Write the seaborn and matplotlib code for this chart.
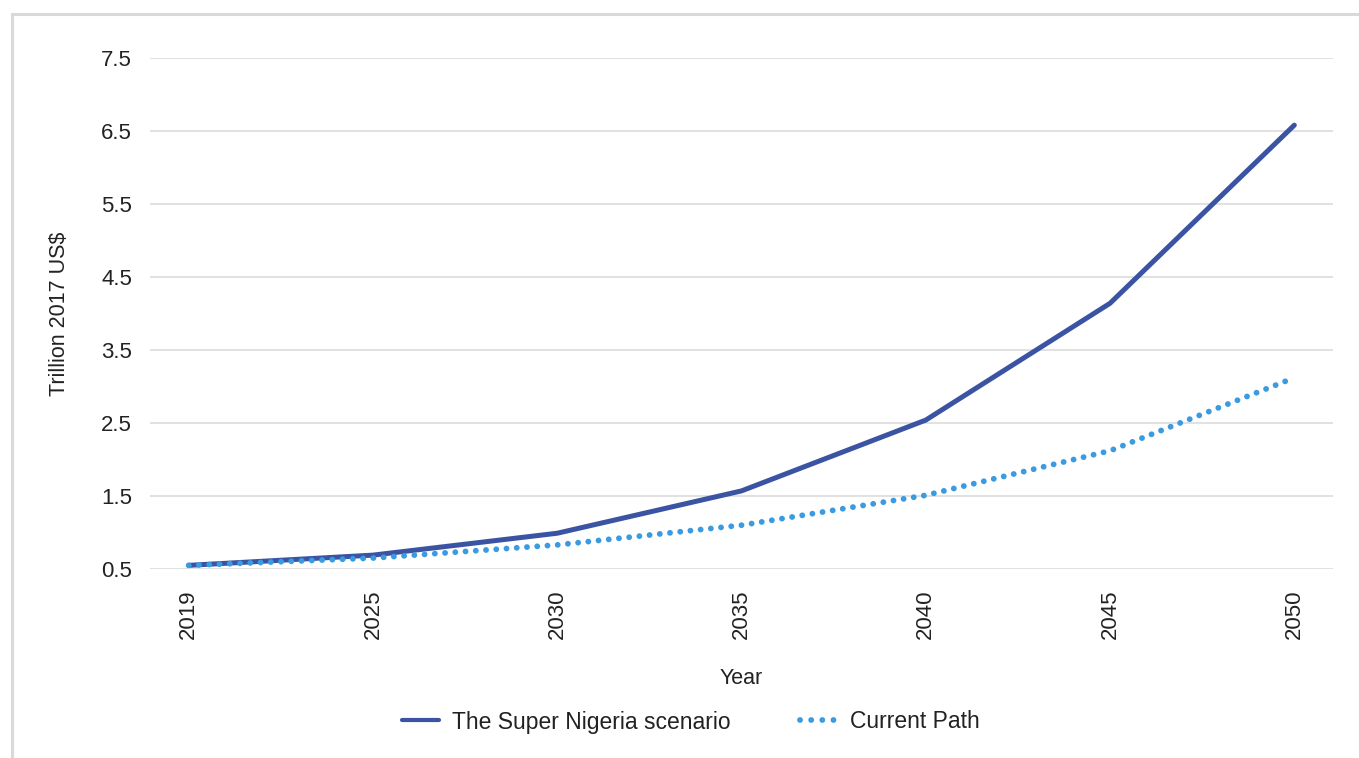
import pandas as pd
import seaborn as sns
import matplotlib.pyplot as plt
from matplotlib.lines import Line2D
from matplotlib.patches import Rectangle

years = ["2019", "2025", "2030", "2035", "2040", "2045", "2050"]
super_nigeria = [0.55, 0.69, 0.99, 1.57, 2.54, 4.14, 6.58]
current_path = [0.55, 0.65, 0.83, 1.10, 1.51, 2.12, 3.12]
y_ticks = [0.5, 1.5, 2.5, 3.5, 4.5, 5.5, 6.5, 7.5]

df = pd.DataFrame({
    "Year": years * 2,
    "Value": super_nigeria + current_path,
    "Series": ["The Super Nigeria scenario"] * len(years) + ["Current Path"] * len(years),
})

sns.set_style("white")
plt.rcParams["font.family"] = ["Liberation Sans", "DejaVu Sans"]
plt.rcParams["lines.solid_capstyle"] = "round"
plt.rcParams["lines.dash_capstyle"] = "round"

dark_blue = "#3b53a3"
light_blue = "#3a9be0"
text_col = "#222222"

fig = plt.figure(figsize=(13.59, 7.58), dpi=100)
ax = fig.add_axes([150 / 1359, 1 - 569 / 758, (1333 - 150) / 1359, (569 - 58) / 758])

sns.lineplot(data=df, x="Year", y="Value", hue="Series", style="Series",
             palette={"The Super Nigeria scenario": dark_blue, "Current Path": light_blue},
             dashes={"The Super Nigeria scenario": "", "Current Path": (0.01, 1.75)},
             linewidth=3.6, ax=ax, legend=False, sort=False)
lines = ax.get_lines()
lines[1].set_linewidth(4.2)

ax.set_xlim(-0.21, 6.21)
ax.set_ylim(0.5, 7.5)
ax.set_yticks(y_ticks)
ax.set_yticklabels([f"{v:.1f}" for v in y_ticks], fontsize=16, color=text_col)
ax.tick_params(axis="x", labelrotation=90, labelsize=16, labelcolor=text_col, pad=15, length=0)
ax.tick_params(axis="y", pad=13, length=0)
ax.grid(axis="y", color="#d9d9d9", linewidth=1.1)
ax.set_axisbelow(True)
for s in ax.spines.values():
    s.set_visible(False)
ax.set_xlabel("Year", fontsize=15.5, color=text_col, labelpad=21)
ax.set_ylabel("Trillion 2017 US$", fontsize=15.5, color=text_col, labelpad=22)

handles = [
    Line2D([], [], color=dark_blue, linewidth=3.0),
    Line2D([], [], color=light_blue, linewidth=4.2, linestyle=(0, (0.01, 1.9)),
           dash_capstyle="round"),
]
fig.legend(handles, ["The Super Nigeria scenario", "Current Path"],
           loc="center", bbox_to_anchor=(691 / 1359, 1 - 722 / 758),
           ncol=2, frameon=False, fontsize=16.5, handlelength=1.6,
           handletextpad=0.6, columnspacing=3.0, labelcolor=text_col)

frame = Rectangle((12 / 1359, -0.05), 1.2, 1 - 14 / 758 + 0.05, transform=fig.transFigure,
                  fill=False, edgecolor="#d9d9d9", linewidth=2.2)
fig.patches.append(frame)

fig.savefig("out.png", dpi=100)
